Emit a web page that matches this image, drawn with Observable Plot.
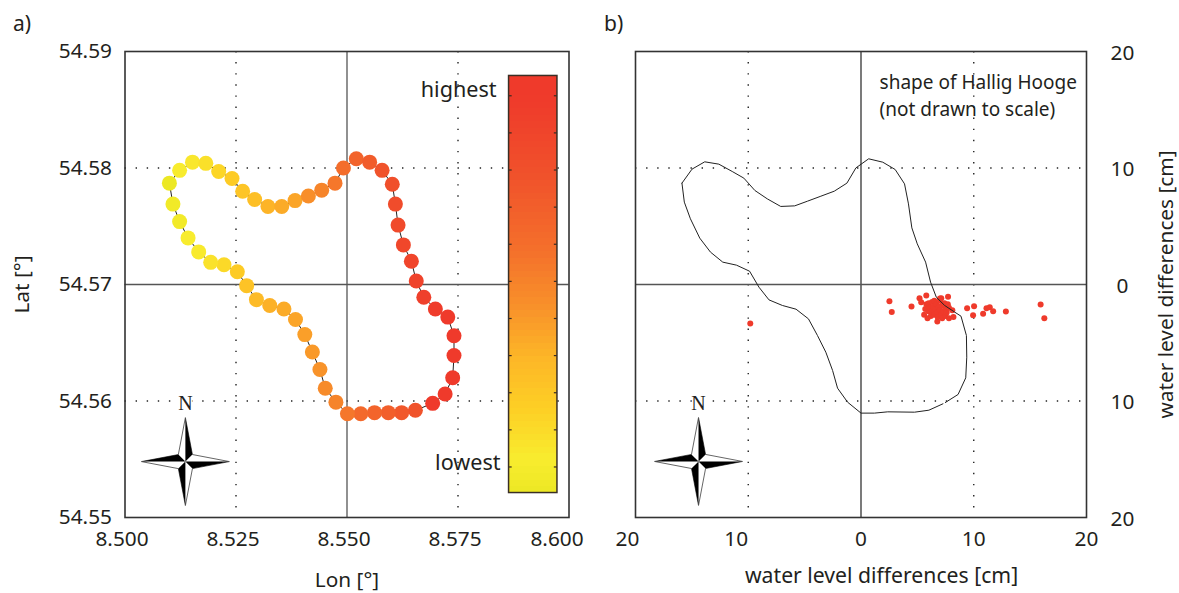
<!DOCTYPE html>
<html>
<head>
<meta charset="utf-8">
<script src="https://cdn.jsdelivr.net/npm/d3@7"></script>
<script src="https://cdn.jsdelivr.net/npm/@observablehq/plot@0.6"></script>
<style>
html,body{margin:0;padding:0;background:#fff}
#page{position:relative;width:1179px;height:593px;overflow:hidden;font-family:"Noto Sans",sans-serif;color:#231f20}
#page svg{position:absolute;top:0;overflow:visible}
.tag{position:absolute;top:10px;font-size:21px;line-height:26px}
</style>
</head>
<body>
<div id="page"></div>
<script>
const lon = [8.5100,8.5123,8.5152,8.5182,8.5211,8.5241,8.5265,8.5292,8.5322,8.5353,8.5383,8.5413,8.5443,8.5473,8.5492,8.5521,8.5551,8.5579,8.5602,8.5609,8.5615,8.5627,8.5645,8.5656,8.5673,8.5699,8.5727,8.5741,8.5741,8.5738,8.5721,8.5693,8.5654,8.5623,8.5593,8.5562,8.5531,8.5501,8.5475,8.5451,8.5439,8.5422,8.5405,8.5384,8.5358,8.5326,8.5296,8.5274,8.5253,8.5223,8.5193,8.5166,8.5142,8.5123,8.5108];
const lat = [54.5787,54.5798,54.5805,54.5804,54.5797,54.5791,54.5780,54.5773,54.5767,54.5767,54.5772,54.5776,54.5781,54.5787,54.5800,54.5808,54.5805,54.5798,54.5786,54.5769,54.5751,54.5734,54.5720,54.5703,54.5689,54.5679,54.5672,54.5656,54.5639,54.5620,54.5606,54.5598,54.5592,54.5590,54.5590,54.5590,54.5589,54.5589,54.5599,54.5611,54.5627,54.5642,54.5657,54.5670,54.5679,54.5682,54.5687,54.5699,54.5711,54.5717,54.5719,54.5728,54.5740,54.5754,54.5769];
const level = [0,.08,.1,.13,.17,.22,.25,.28,.33,.36,.38,.46,.5,.55,.6,.66,.7,.75,.78,.8,.82,.84,.86,.88,.9,.93,.97,1,1,1,.98,.96,.75,.72,.68,.65,.62,.55,.5,.47,.44,.42,.4,.38,.36,.34,.3,.26,.22,.16,.12,.09,.08,.04,.03];
const outlineX = [-15.88,-15.67,-15.13,-14.30,-13.35,-12.26,-11.04,-9.88,-9.05,-8.16,-6.97,-5.76,-4.66,-3.86,-3.12,-2.52,-2.08,-1.19,0,1.19,2.37,4.75,6.02,7.27,null,7.48,8.61,9.29,9.38,9.35,8.87,8.31,7.42,6.68,6.17,5.73,4.99,4.51,4.21,3.86,3.03,1.93,0.68,-0.45,-1.25,-2.37,-3.56,-4.75,-5.88,-7.12,-8.31,-9.41,-10.39,-11.42,-12.61,-13.86,-14.99,-15.88];
const outlineY = [8.70,7.07,5.64,3.98,2.78,1.92,1.66,1.14,-0.23,-1.32,-1.80,-2.12,-2.95,-4.38,-5.81,-7.38,-8.90,-10.10,-11.04,-11.04,-10.93,-10.96,-10.79,-10.24,null,-10.13,-9.44,-8.01,-6.24,-4.38,-2.72,-2.37,-1.80,-1.09,0.20,1.92,3.49,4.86,6.92,8.64,9.87,10.50,10.79,10.01,8.70,8.01,7.58,7.15,6.75,6.70,7.35,8.07,9.13,9.70,10.33,10.53,9.90,8.70];
const diffX = [-9.82,2.52,2.73,4.48,5.19,5.79,5.34,7.72,7.12,6.77,9.41,10.03,9.94,10.83,11.13,11.42,11.72,12.85,15.93,16.26,5.6,5.7,5.8,5.9,6.0,6.0,6.1,6.2,6.3,6.3,6.4,6.5,6.5,6.6,6.7,6.8,6.8,6.9,7.0,7.0,7.1,7.2,7.2,7.3,7.4,7.5,7.5,7.6,7.7,7.8,7.8,8.1,8.2,7.0];
const diffY = [-3.35,-1.43,-2.37,-1.89,-1.17,-0.94,-1.52,-1.06,-1.17,-3.18,-2.03,-1.86,-2.63,-2.52,-2.03,-1.95,-2.29,-2.32,-1.72,-2.89,-2.6,-2.1,-1.7,-2.9,-2.3,-1.6,-2.0,-2.7,-1.5,-2.3,-1.9,-2.6,-1.4,-2.1,-1.7,-2.4,-2.8,-1.9,-1.4,-2.2,-2.6,-1.8,-2.9,-2.3,-1.6,-2.1,-2.7,-2.4,-1.7,-2.0,-2.9,-2.2,-2.8,-1.2];
const lonTicks = [8.5,8.525,8.55,8.575];
const latTicks = [54.55,54.56,54.57,54.58,54.59];
const diffTicks = [-20,-10,0,10,20];
const barSteps = d3.range(0,1,1/64);
const barMarks = [.0625,.1515,.2405,.3295,.4185,.5075,.5965,.6855,.7745,.8635,.9525];
const colorStops = [0,.08,.2,.32,.45,.58,.77,.95,1];
const colorValues = ["#ece824","#f8ec2e","#fdcf25","#fdb727","#f8902a","#f4702b","#f0502b","#ef3a2b","#ef3a2b"];

const ink = "#231f20", grid = "#222";
const dotted = {stroke:grid, strokeWidth:1.4, strokeDasharray:"1.4,9.7"};
const base = {fontFamily:"Noto Sans, sans-serif", fontSize:"21px", color:ink, background:"transparent", overflow:"visible"};
const fmt3 = d3.format(".3f"), fmt2 = d3.format(".2f"), absFmt = d => String(Math.abs(d));

// compass rose as custom symbols: unit radius equals r
const unit = s => Math.sqrt(s/Math.PI);
const inner = 0.16;
const roseOutline = {draw(c,s){const k=unit(s),i=inner*k;
  c.moveTo(0,-k);c.lineTo(i,-i);c.lineTo(k,0);c.lineTo(i,i);c.lineTo(0,k);c.lineTo(-i,i);c.lineTo(-k,0);c.lineTo(-i,-i);c.closePath();}};
const roseBlack = {draw(c,s){const k=unit(s),i=inner*k;
  c.moveTo(0,-k);c.lineTo(i,-i);c.lineTo(0,0);c.closePath();
  c.moveTo(k,0);c.lineTo(i,i);c.lineTo(0,0);c.closePath();
  c.moveTo(0,k);c.lineTo(-i,i);c.lineTo(0,0);c.closePath();
  c.moveTo(-k,0);c.lineTo(-i,-i);c.lineTo(0,0);c.closePath();}};
const rose = (x,y,ny) => [
  Plot.text(["N"],{x:[x],y:[ny],fontFamily:"Liberation Serif",fontSize:20,fill:"#222",stroke:"white",strokeWidth:3,paintOrder:"stroke"}),
  Plot.dot([0],{x:[x],y:[y],r:44,symbol:roseOutline,fill:"white",stroke:"#555",strokeWidth:0.9}),
  Plot.dot([0],{x:[x],y:[y],r:44,symbol:roseBlack,fill:"black",stroke:"none"})
];

const barX1 = 8.5865, barX2 = 8.5974, barY1 = 54.5521, barY2 = 54.5879;
const barLat = v => barY1 + v*(barY2-barY1);

const left = Plot.plot({
  width:590, height:593, marginLeft:124.5, marginRight:21.5, marginTop:51, marginBottom:76,
  style:base,
  x:{domain:[8.5,8.6]},
  y:{domain:[54.55,54.59]},
  color:{type:"linear", domain:colorStops, range:colorValues},
  marks:[
    Plot.ruleX([8.525,8.575],dotted),
    Plot.ruleY([54.56,54.58],dotted),
    Plot.ruleX([8.55],{stroke:"#555",strokeWidth:1.3}),
    Plot.ruleY([54.57],{stroke:"#555",strokeWidth:1.5}),
    Plot.line(lon.concat(lon[0]).map((d,i)=>i),{x:lon.concat(lon[0]),y:lat.concat(lat[0]),stroke:"#222",strokeWidth:1}),
    Plot.dot(lon.map((d,i)=>i),{x:lon,y:lat,fill:level,r:7.5,stroke:"none"}),
    Plot.rect(barSteps,{x1:barX1,x2:barX2,y1:d=>barLat(d),y2:d=>barLat(Math.min(1,d+1/64+.002)),fill:d=>d+1/128,shapeRendering:"crispEdges"}),
    Plot.ruleY(barMarks,{y:barLat,x1:barX1,x2:barX1+.0007,stroke:"#3a2a20",strokeWidth:1.2}),
    Plot.ruleY(barMarks,{y:barLat,x1:barX2-.0007,x2:barX2,stroke:"#3a2a20",strokeWidth:1.2}),
    Plot.rect([0],{x1:barX1,x2:barX2,y1:barY1,y2:barY2,fill:"none",stroke:"#3a2f25",strokeWidth:1.5}),
    Plot.text(["highest"],{x:[8.5837],y:[54.58665],textAnchor:"end",fontSize:21.6,fill:ink}),
    Plot.text(["lowest"],{x:[8.5846],y:[54.55464],textAnchor:"end",fontSize:21.6,fill:ink}),
    ...rose(8.5136,54.5548,54.5598),
    Plot.frame({stroke:"#333",strokeWidth:1.6}),
    Plot.axisX({ticks:lonTicks,tickFormat:fmt3,tickSize:0,tickPadding:14,dx:-3,fontSize:20.8,label:"Lon [°]",labelAnchor:"center",labelArrow:"none",labelOffset:69}),
    Plot.axisX({ticks:[8.6],tickFormat:fmt3,tickSize:0,tickPadding:14,dx:-12,fontSize:20.8,label:null}),
    Plot.axisY({ticks:latTicks,tickFormat:fmt2,tickSize:0,tickPadding:13,dy:0,fontSize:20.8,label:"Lat [°]",labelAnchor:"center",labelArrow:"none",labelOffset:111})
  ]
});
left.style.left = "0px";

const right = Plot.plot({
  width:589, height:593, marginLeft:45, marginRight:93, marginTop:51, marginBottom:76,
  style:base,
  x:{domain:[-20,20]},
  y:{domain:[-20,20]},
  marks:[
    Plot.ruleX([-10,10],dotted),
    Plot.ruleY([-10,10],dotted),
    Plot.ruleX([0],{stroke:"#222",strokeWidth:1.2}),
    Plot.ruleY([0],{stroke:"#555",strokeWidth:1.5}),
    Plot.dot(diffX.map((d,i)=>i),{x:diffX,y:diffY,r:3,fill:"#ef3a2b",stroke:"none"}),
    Plot.line(outlineX.map((d,i)=>i),{x:outlineX,y:outlineY,stroke:"#222",strokeWidth:1}),
    Plot.text(["shape of Hallig Hooge"],{x:[1.65],y:[17.3],textAnchor:"start",fontSize:19,fill:ink}),
    Plot.text(["(not drawn to scale)"],{x:[1.65],y:[15],textAnchor:"start",fontSize:19,fill:ink}),
    ...rose(-14.41,-15.19,-10.21),
    Plot.frame({stroke:"#333",strokeWidth:1.6}),
    Plot.axisX({ticks:[0,10,20],tickFormat:absFmt,tickSize:0,tickPadding:14,fontSize:20.8,label:null}),
    Plot.axisX({ticks:[-20],tickFormat:absFmt,tickSize:0,tickPadding:14,dx:-8,fontSize:20.8,label:null}),
    Plot.axisX({ticks:[-10],tickFormat:absFmt,tickSize:0,tickPadding:14,dx:-12,fontSize:20.8,label:null}),
    Plot.text(["water level differences [cm]"],{x:[1.82],y:[-25],fontSize:21.2,fill:ink,clip:false}),
    Plot.axisY({anchor:"right",ticks:diffTicks,tickFormat:absFmt,tickSize:0,tickPadding:36,textAnchor:"middle",dy:1.5,fontSize:20.8,label:"water level differences [cm]",labelAnchor:"center",labelArrow:"none",labelOffset:86})
  ]
});
right.style.left = "590px";

const page = document.getElementById("page");
page.append(left,right);
for (const [t,x] of [["a)",13],["b)",604]]) {
  const d = document.createElement("div");
  d.className = "tag"; d.textContent = t; d.style.left = x+"px";
  page.append(d);
}
</script>
</body>
</html>
